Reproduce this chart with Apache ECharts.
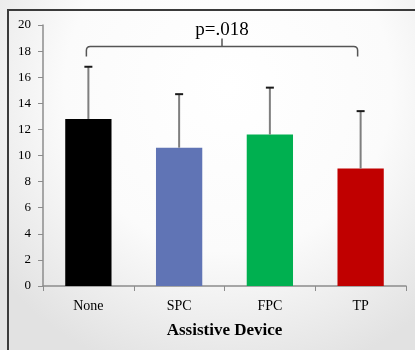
<!DOCTYPE html>
<html>
<head>
<meta charset="utf-8">
<script src="https://cdn.jsdelivr.net/npm/echarts@6/dist/echarts.min.js"></script>
<style>html,body{margin:0;padding:0;}#c{width:415px;height:350px;}</style>
</head>
<body>
<div id="c"></div>
<script>
var categories = ['None', 'SPC', 'FPC', 'TP'];
var means = [12.8, 10.6, 11.6, 9.0];
var errorTops = [16.8, 14.7, 15.2, 13.4];
var barColors = ['#000000', '#6074B5', '#00B050', '#C00000'];
var yTicks = [0, 2, 4, 6, 8, 10, 12, 14, 16, 18, 20];
var bracket = { from: 0, to: 3, level: 18.35, label: 'p=.018' };

var FONT = 'Liberation Serif';
var chart = echarts.init(document.getElementById('c'), null, { renderer: 'canvas' });

var option = {
  animation: false,
  backgroundColor: '#ffffff',
  graphic: [
    {
      type: 'rect', z: -100, silent: true,
      shape: { x: 0, y: 0, width: 415, height: 350 },
      style: {
        fill: {
          type: 'radial', x: 0.55, y: 0.25, r: 0.85,
          colorStops: [{ offset: 0, color: '#ffffff' }, { offset: 0.55, color: '#fbfbfb' }, { offset: 1, color: '#e2e2e2' }]
        }
      }
    },
    {
      type: 'polyline', z: 10, silent: true,
      shape: { points: [[8, 350], [8, 10], [415, 10]] },
      style: { stroke: '#3a3a3a', lineWidth: 2, fill: null }
    }
  ],
  grid: { left: 43, right: 9, top: 25, bottom: 64, containLabel: false },
  xAxis: {
    type: 'category',
    data: categories,
    name: 'Assistive Device',
    nameLocation: 'middle',
    nameGap: 36,
    nameTextStyle: { fontFamily: FONT, fontSize: 17, fontWeight: 'bold', color: '#000' },
    axisLine: { lineStyle: { color: '#8c8c8c', width: 1.5 } },
    axisTick: { show: true, length: 5, alignWithLabel: false, lineStyle: { color: '#8c8c8c' } },
    axisLabel: { fontFamily: FONT, fontSize: 14, color: '#000', margin: 13 },
    splitLine: { show: false }
  },
  yAxis: {
    type: 'value',
    min: 0, max: 20, interval: 2,
    axisLine: { show: true, lineStyle: { color: '#8c8c8c', width: 1.5 } },
    axisTick: { show: true, length: 5, inside: false, lineStyle: { color: '#8c8c8c' } },
    axisLabel: { fontFamily: FONT, fontSize: 13, color: '#000', margin: 12,
      formatter: function (v) { return yTicks.indexOf(v) >= 0 ? String(v) : ''; } },
    splitLine: { show: false }
  },
  series: [
    {
      type: 'bar',
      barWidth: '51%',
      data: means.map(function (v, i) { return { value: v, itemStyle: { color: barColors[i] } }; }),
      z: 2
    },
    {
      type: 'custom',
      z: 3,
      data: means.map(function (v, i) { return [i, v, errorTops[i]]; }),
      renderItem: function (params, api) {
        var x = api.value(0);
        var p0 = api.coord([x, api.value(1)]);
        var p1 = api.coord([x, api.value(2)]);
        var hw = 4;
        return {
          type: 'group',
          children: [
            { type: 'line', shape: { x1: p0[0], y1: p0[1], x2: p1[0], y2: p1[1] },
              style: { stroke: '#7f7f7f', lineWidth: 2 } },
            { type: 'line', shape: { x1: p1[0] - hw, y1: p1[1], x2: p1[0] + hw, y2: p1[1] },
              style: { stroke: '#1a1a1a', lineWidth: 2 } }
          ]
        };
      }
    },
    {
      type: 'custom',
      z: 4,
      data: [[bracket.from, bracket.to, bracket.level]],
      renderItem: function (params, api) {
        var a = api.coord([api.value(0), api.value(2)]);
        var b = api.coord([api.value(1), api.value(2)]);
        var y = a[1];
        var xl = a[0] - 2, xr = b[0] - 3;
        var xm = (xl + xr) / 2;
        return {
          type: 'group',
          children: [
            { type: 'path', shape: {
                pathData: 'M' + xl + ' ' + (y + 10) + ' L' + xl + ' ' + (y + 4) +
                  ' Q' + xl + ' ' + y + ' ' + (xl + 4) + ' ' + y +
                  ' L' + (xr - 4) + ' ' + y + ' Q' + xr + ' ' + y + ' ' + xr + ' ' + (y + 4) +
                  ' L' + xr + ' ' + (y + 10) +
                  ' M' + xm + ' ' + y + ' L' + xm + ' ' + (y - 8)
              },
              style: { stroke: '#555555', lineWidth: 1.5, fill: null } },
            { type: 'text', style: { text: bracket.label, x: xm, y: y - 7,
                textAlign: 'center', textVerticalAlign: 'bottom',
                fontFamily: FONT, fontSize: 19, fill: '#000' } }
          ]
        };
      }
    }
  ]
};
chart.setOption(option);
</script>
</body>
</html>
